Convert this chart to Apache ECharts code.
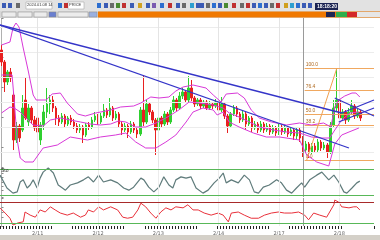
<!DOCTYPE html>
<html><head><meta charset="utf-8">
<script src="https://cdn.jsdelivr.net/npm/echarts@6/dist/echarts.min.js"></script>
<style>html,body{margin:0;padding:0;background:#fff}#c{width:380px;height:240px}</style>
</head><body><div id="c"></div><script>
// candles: [open, close, low, high]
const candles = [
[127,115,111,132],[115,95,85,117],[95,105,92,107],[105,99,95,109],[82,37,27,85],
[37,51,34,55],[51,39,35,53],[47,69,45,82],[77,59,57,99],[55,69,51,73],
[69,57,53,71],[57,49,46,61],[59,45,42,61],[37,52,32,55],[52,65,47,72],
[65,73,59,89],[73,77,63,82],[77,69,65,81],[69,59,52,71],[59,55,51,62],
[55,61,53,64],[61,53,50,63],[53,59,51,61],[59,55,52,62],[55,51,48,58],
[51,47,44,54],[47,50,44,53],[50,42,34,52],[42,52,40,54],[52,50,47,55],
[50,57,48,60],[57,61,55,65],[61,55,52,63],[55,61,53,64],[61,67,59,73],
[67,62,59,69],[62,69,60,79],[69,59,56,71],[59,63,57,66],[63,53,50,65],
[53,47,42,56],[47,51,45,54],[51,45,39,53],[45,53,43,56],[53,47,44,55],
[47,43,39,50],[43,67,41,70],[67,55,51,102],[55,73,53,77],[73,65,62,75],
[65,57,54,67],[57,47,22,59],[47,59,45,62],[59,53,50,61],[53,63,51,66],
[63,55,52,65],[55,67,53,70],[67,77,65,81],[77,69,66,79],[69,81,67,85],
[81,85,78,89],[85,77,74,87],[77,89,75,101],[89,79,76,97],[79,73,70,81],
[73,77,71,79],[77,71,68,79],[71,75,69,77],[75,69,67,77],[69,73,67,76],
[73,71,68,75],[71,75,69,78],[75,67,59,77],[67,73,65,80],[73,61,58,75],
[61,51,44,63],[51,63,49,65],[63,69,61,72],[69,63,60,71],[63,57,54,65],
[57,63,55,66],[63,53,47,65],[53,59,51,61],[59,49,45,61],[49,53,47,56],
[53,47,44,55],[47,53,45,56],[53,47,44,55],[47,51,45,54],[51,45,42,53],
[45,49,43,52],[49,44,41,51],[44,50,42,53],[50,45,42,52],[45,49,43,52],
[49,43,40,51],[43,47,41,50],[47,41,37,49],[41,47,38,50],[47,39,35,49],
[39,27,20,41],[27,33,24,36],[33,25,19,35],[25,31,23,34],[31,27,24,34],
[27,35,25,38],[35,29,26,37],[29,32,27,35],[32,25,19,34],[25,52,23,55],
[52,69,50,77],[69,77,65,109],[77,59,56,79],[59,65,57,68],[65,57,53,67],
[57,65,55,69],[65,71,63,77],[71,61,58,73],[61,65,59,68],[65,59,56,67]
];
const catCount = 124;
const upperBand = [[0,132],[2.8,135],[3.8,149],[4.8,154],[5.8,150],[7.2,129],[8.8,107],[10.5,82],[11.5,77],[14.8,77],[16.8,83],[19.5,84],[21.8,74],[25.2,63],[27.8,61],[31.2,64],[36.2,67],[39.5,70],[43.8,71],[46.2,74],[49.5,80],[52.2,79],[55.5,80],[57.8,86],[60.2,90],[63.5,92],[67.8,89],[70.2,82],[72.8,75],[74.5,83],[78.2,84],[80.5,79],[82.8,67],[85.5,59],[89.5,55],[94.5,52],[98.8,54],[102.8,52],[106.8,54],[109.2,50],[110.5,70],[111.8,77],[113.8,81],[116.2,84],[117.5,84],[118.8,80]];
const middleBand = [[0,64],[2.8,70],[4.2,69],[6.2,65],[8.8,57],[10.5,52],[13.8,51],[16.2,57],[19.5,59],[22.8,57],[26.2,55],[29.5,53],[32.8,52],[36.2,53],[38.8,56],[41.2,55],[44.5,50],[47.8,50],[51.2,54],[54.5,59],[58.8,67],[62.2,75],[65.5,74],[70.2,72],[73.5,69],[75.5,64],[78.8,60],[82.2,55],[85.5,50],[90.2,47],[94.5,45],[98.8,44],[102.8,40],[106.2,39],[108.8,39],[110.5,47],[112.8,57],[115.5,64],[118.5,65]];
const lowerBand = [[0,102],[3.5,102],[4.2,77],[5.2,37],[6.2,19],[7.8,15],[10.5,15],[13.8,29],[18.5,32],[22.8,40],[28.5,37],[32.8,40],[37.8,42],[41.2,44],[44.5,35],[47.8,29],[51.2,29],[54.5,35],[57.8,42],[61.2,55],[63.5,65],[66.8,69],[70.2,67],[71.5,62],[73.5,65],[75.5,55],[78.8,50],[83.5,44],[87.8,40],[92.2,40],[98.8,37],[101.2,22],[104.5,15],[108.5,11],[109.5,22],[110.5,33],[112.8,42],[115.2,45],[118.5,49]];
const trendLines = [
  [[-0.5,152],[115.2,29]],
  [[-0.5,152],[112.8,64]],
  [[110.5,79],[123.5,61]],
  [[111.8,55],[123.5,69]],
  [[112.8,64],[123.5,77]]
];
const fibDiagonal = [[101.2,17],[111.2,109]];
const fibStart = 100.5, fibEnd = 123.5;
const fibLevels = [109,87,63,52,17];
const fibLabels = ['100.0','76.4','50.0','38.2','0.0'];
const priceGrid = [25,50,75,100,125,150];
const stochLine = [[-0.5,66],[1.8,36],[3.8,24],[5.2,27],[6.2,50],[7.2,55],[8.5,36],[9.5,43],[10.5,55],[11.8,36],[12.8,59],[13.8,73],[15.5,83],[17.2,71],[18.8,43],[20.2,36],[21.2,31],[22.8,43],[25.2,48],[27.2,55],[28.8,62],[30.5,50],[32.2,66],[33.8,50],[36.2,55],[38.5,48],[40.5,36],[42.2,31],[43.8,38],[46.2,59],[47.2,55],[48.8,38],[50.5,27],[52.2,38],[53.8,62],[55.5,43],[56.8,36],[57.8,55],[59.5,62],[61.2,59],[62.8,62],[64.5,36],[66.8,24],[68.5,31],[70.5,48],[72.2,59],[73.5,71],[74.5,48],[76.2,55],[78.5,48],[80.5,66],[82.2,55],[83.8,27],[85.2,24],[86.8,38],[88.8,43],[91.2,55],[92.8,48],[94.5,31],[96.2,24],[97.8,36],[99.5,48],[100.5,38],[102.2,55],[104.5,66],[106.2,73],[108.5,55],[110.2,66],[111.8,50],[113.5,27],[114.5,24],[116.2,36],[117.8,48],[118.8,52]];
const stochLevels = [80,20];
const rsiLine = [[-0.5,59],[1.2,49],[2.8,39],[3.8,26],[5.5,30],[7.2,32],[7.8,51],[9.5,45],[11.2,41],[12.8,55],[14.5,51],[16.2,61],[17.8,55],[19.5,49],[21.8,45],[23.8,49],[26.2,41],[27.8,45],[28.8,55],[30.5,51],[32.2,61],[33.8,55],[36.2,61],[38.5,55],[40.2,41],[41.8,39],[43.5,41],[45.2,55],[46.2,68],[47.8,61],[49.5,49],[51.2,39],[52.8,51],[54.5,59],[56.2,55],[57.8,61],[60.2,59],[61.8,65],[63.5,55],[65.2,55],[67.2,49],[69.5,45],[71.8,49],[73.5,45],[75.2,32],[76.2,49],[78.5,51],[80.5,45],[82.8,39],[85.2,39],[87.2,45],[89.5,49],[91.8,51],[93.8,49],[96.2,49],[98.5,51],[100.5,45],[101.8,36],[103.5,49],[105.5,45],[107.8,41],[110.2,65],[110.5,74],[111.8,70],[112.8,61],[115.2,59],[116.8,61],[117.8,61],[118.8,55]];
const rsiLevels = [70,30];
const dateLabels = ['2/11','2/12','2/13','2/14','2/17','2/18'];
const labelIdx = [12,32,52,72,92,112];
const cursorIdx = 100;

const cats = Array.from({length: catCount}, (_, i) => String(i));
const chart = echarts.init(document.getElementById('c'), null, {renderer: 'canvas'});
const hidden = {show:false};
const valX = (g) => ({type:'value', gridIndex:g, min:-0.5, max:catCount-0.5, show:false});
const yAx = (g, min, max) => ({type:'value', gridIndex:g, min, max, position:'right', splitLine:{show:false},
  axisLine:{show:true, lineStyle:{color:'#b0b0b0', width:1}}, axisTick:{show:true, length:2, lineStyle:{color:'#888'}},
  axisLabel:{show:false}});
const vGrid = (color) => labelIdx.map(i => ({xAxis:i, lineStyle:{color, width:1, type:'solid'}}))
  .concat([{xAxis:cursorIdx, lineStyle:{color:'#9a9a9a', width:1, type:'solid'}}]);
const ml = (data) => ({silent:true, symbol:'none', label:{show:false}, data});

const lineS = (name, data, color, xi, yi, w, z) => ({type:'line', name, data, xAxisIndex:xi, yAxisIndex:yi,
  symbol:'none', silent:true, animation:false, z: z||3, lineStyle:{color, width:w||1}});

const series = [
  Object.assign(lineS('grid0', [], '#000', 1, 0, 1, 1), {markLine: ml(
     priceGrid.map(v => ({yAxis:v, lineStyle:{color:'#ececec', width:1, type:'solid'}})).concat(vGrid('#e4e4e4')))}),
  Object.assign(lineS('grid1', [], '#000', 2, 1, 1, 1), {markLine: ml(vGrid('#ececec'))}),
  Object.assign(lineS('grid2', [], '#000', 3, 2, 1, 1), {markLine: ml(vGrid('#ececec'))}),
  {type:'candlestick', name:'price', data:candles, xAxisIndex:0, yAxisIndex:0, barWidth:2, animation:false, z:4,
   itemStyle:{color:'#2fd02f', color0:'#e82020', borderColor:'#2fd02f', borderColor0:'#e82020', borderWidth:1}},
  lineS('upper', upperBand, '#d838d8', 1, 0, 1, 5),
  lineS('middle', middleBand, '#d838d8', 1, 0, 1, 5),
  lineS('lower', lowerBand, '#d838d8', 1, 0, 1, 5),
  Object.assign(lineS('fib', fibDiagonal, '#f0a050', 1, 0, 1, 5), {markLine: {silent:true, symbol:'none',
     data: fibLevels.map((v, i) => [
       {coord:[fibStart, v], label:{show:true, formatter: fibLabels[i], position:'insideStartTop', fontSize:5, color:'#b06a20', distance:1}},
       {coord:[fibEnd, v]}]),
     lineStyle:{color:'#f0a860', width:1, type:'solid'}}}),
  ...trendLines.map((d, i) => lineS('trend'+i, d, '#3434c8', 1, 0, 1.3, 6)),
  Object.assign(lineS('stoch', stochLine, '#5f7b7b', 2, 1, 1.2, 4), {markLine: ml(
     stochLevels.map(v => ({yAxis:v, lineStyle:{color:'#58b858', width:1, type:'solid'}})))}),
  Object.assign(lineS('rsi', rsiLine, '#e8303a', 3, 2, 1, 4), {markLine: ml([
     {yAxis:rsiLevels[0], lineStyle:{color:'#a82a2a', width:1, type:'solid'}},
     {yAxis:rsiLevels[1], lineStyle:{color:'#58b858', width:1, type:'solid'}}])})
];

const icons = [];
const iconColors = ['#3b5bb5','#3b5bb5','#6a6a6a','#2d6fd0','#c03030','#2d6fd0','#3b5bb5','#6a6a6a','#4a8a30','#c03030','#3b5bb5','#d0a020','#3b5bb5','#7a5ab0','#2d6fd0','#c03030','#3b5bb5','#6a6a6a','#2d9fd0','#3b5bb5'];
const iconX = [2,8,16,58,64,97,104,110,116,122,130,138,146,152,160,168,176,182,190,196];
iconX.forEach((x, i) => icons.push({type:'rect', shape:{x, y:3, width:4, height:5}, style:{fill:iconColors[i]}}));
const iconX2 = [200,206,212,218,224,232,240,246,252,258,264,270,276,284,290,296,302,308];
iconX2.forEach((x, i) => icons.push({type:'rect', shape:{x, y:3, width:4, height:5}, style:{fill:iconColors[(i*7)%iconColors.length]}}));

chart.setOption({
  animation:false,
  backgroundColor:'#ffffff',
  grid:[
    {left:0, right:6, top:18, height:150},
    {left:0, right:6, top:167, height:30},
    {left:0, right:6, top:198, height:28}
  ],
  xAxis:[
    {type:'category', gridIndex:0, data:cats, show:false},
    valX(0),
    valX(1),
    {type:'category', gridIndex:2, data:cats, position:'bottom',
     axisLine:{show:false},
     axisTick:{show:true, length:3, interval:(i) => i < candles.length && (i % 24) < 18, lineStyle:{color:'#222'}},
     axisLabel:{show:true, fontSize:5, color:'#666', margin:5, fontFamily:'DejaVu Sans',
       interval:(i) => labelIdx.indexOf(i) >= 0,
       formatter:(v, i) => dateLabels[labelIdx.indexOf(i)] || ''},
     splitLine:{show:false}},
    valX(2)
  ],
  yAxis:[ yAx(0, 9, 159), yAx(1, 15, 85), yAx(2, 24, 78) ],
  series: series.map(s => {
    if (s.xAxisIndex === 2) return Object.assign({}, s, {xAxisIndex:2});
    if (s.xAxisIndex === 3) return Object.assign({}, s, {xAxisIndex:4});
    return s;
  }),
  graphic:[
    {type:'rect', shape:{x:0, y:0, width:380, height:11}, style:{fill:'#e2e2e2'}, z:10},
    {type:'rect', shape:{x:26, y:2, width:26, height:7}, style:{fill:'#fff', stroke:'#9a9a9a', lineWidth:0.5}, z:11},
    {type:'text', left:27, top:2.5, style:{text:'2024.01.08 14', fontSize:4, fill:'#333'}, z:12},
    {type:'rect', shape:{x:68, y:2, width:16, height:7}, style:{fill:'#fff', stroke:'#9a9a9a', lineWidth:0.5}, z:11},
    {type:'text', left:69, top:2.5, style:{text:'PRICE', fontSize:4, fill:'#333'}, z:12},
    ...icons.map(o => Object.assign(o, {z:11})),
    {type:'rect', shape:{x:315, y:3, width:23, height:7}, style:{fill:'#1c2452'}, z:11},
    {type:'text', left:317, top:3.8, style:{text:'18:18:20', fontSize:5, fill:'#ffffff', fontWeight:'bold'}, z:12},
    {type:'rect', shape:{x:0, y:11, width:380, height:7}, style:{fill:'#d6d6d6'}, z:10},
    {type:'rect', shape:{x:2, y:12, width:14, height:5}, style:{fill:'#ececec', stroke:'#8a8a8a', lineWidth:0.5}, z:11},
    {type:'rect', shape:{x:18, y:12, width:14, height:5}, style:{fill:'#ececec', stroke:'#8a8a8a', lineWidth:0.5}, z:11},
    {type:'rect', shape:{x:34, y:12, width:13, height:5}, style:{fill:'#ececec', stroke:'#8a8a8a', lineWidth:0.5}, z:11},
    {type:'rect', shape:{x:49, y:12, width:7, height:5}, style:{fill:'#6a7fd0', stroke:'#8a8a8a', lineWidth:0.5}, z:11},
    {type:'rect', shape:{x:58, y:12, width:30, height:5}, style:{fill:'#ececec', stroke:'#8a8a8a', lineWidth:0.5}, z:11},
    {type:'rect', shape:{x:89, y:12, width:8, height:5}, style:{fill:'#9ab0e0', stroke:'#8a8a8a', lineWidth:0.5}, z:11},
    {type:'rect', shape:{x:98, y:11.5, width:282, height:6}, style:{fill:'#f07800'}, z:11},
    {type:'rect', shape:{x:326, y:12, width:9, height:5}, style:{fill:'#1c2452'}, z:12},
    {type:'rect', shape:{x:336, y:12, width:11, height:5}, style:{fill:'#2fae4a'}, z:12},
    {type:'rect', shape:{x:347, y:12, width:10, height:5}, style:{fill:'#d42828'}, z:12},
    {type:'rect', shape:{x:357, y:12, width:23, height:5}, style:{fill:'#e6e6e6'}, z:12},
    {type:'text', left:1, top:168, style:{text:'Sto', fontSize:5, fill:'#333'}, z:12},
    {type:'rect', shape:{x:0, y:235, width:380, height:5}, style:{fill:'#d4d0c8'}, z:10}
  ]
});
</script></body></html>
